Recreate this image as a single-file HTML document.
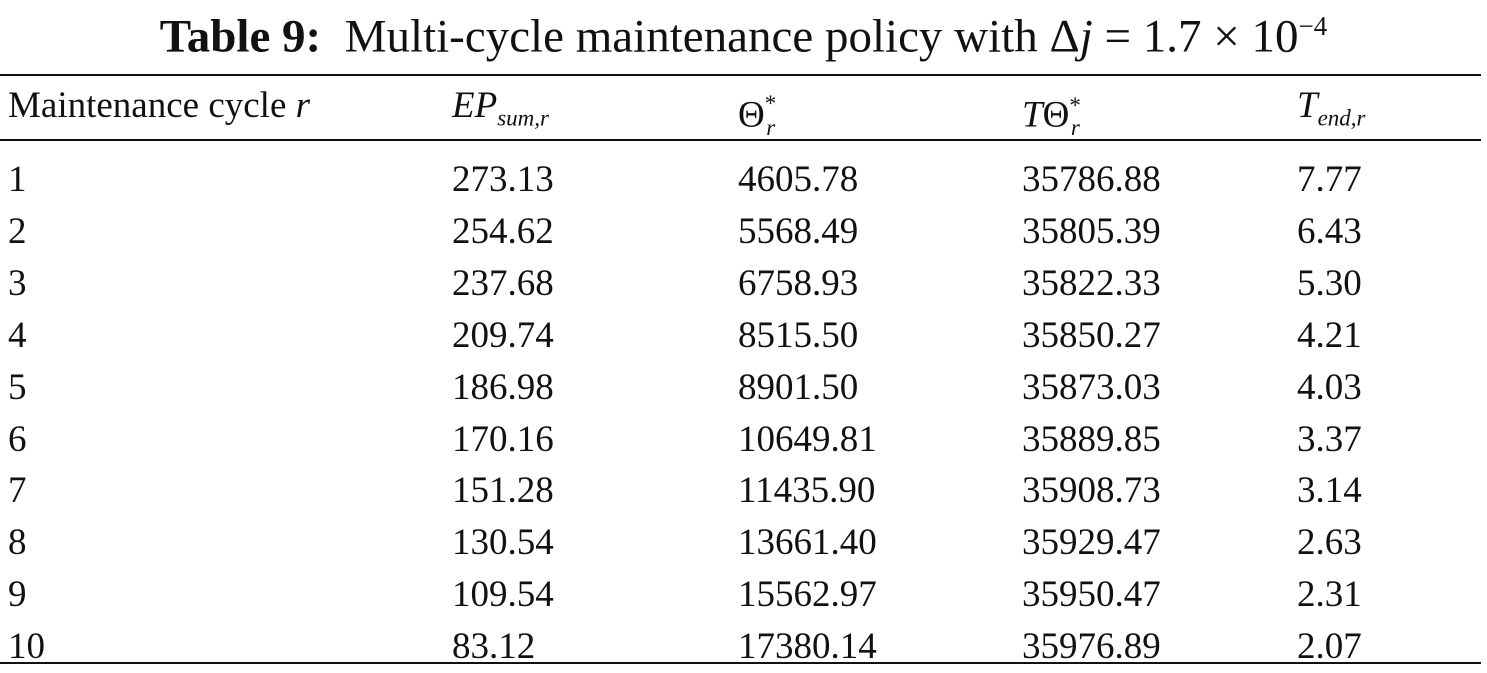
<!DOCTYPE html>
<html><head><meta charset="utf-8"><style>
body{margin:0;width:1487px;height:671px;background:#fff;position:relative;overflow:hidden;font-family:"Liberation Serif",serif;color:#111}
.t{position:absolute;white-space:nowrap}
.rule{position:absolute;left:0;width:1481px;height:2px;background:#111}
.row{position:absolute;left:0;height:52px;width:1487px;font-size:37px;line-height:52px}
.c{position:absolute;top:0;white-space:nowrap}
sub,sup{font-size:23px}
</style></head><body>
<div class="t" style="left:0;width:1487px;text-align:center;top:-2px;font-size:47px;line-height:56px"><b>Table 9:</b>&nbsp; Multi-cycle maintenance policy with Δ<i>j</i> = 1.7 × 10<sup style="font-size:27px">−4</sup></div>
<div class="rule" style="top:74px"></div>
<div class="row" style="top:80px">
<span class="c" style="left:8px">Maintenance cycle <i>r</i></span>
<span class="c" style="left:452px"><i>EP<sub>sum,r</sub></i></span>
<span class="c" style="left:738px">Θ<sup style="position:relative;top:-2px">*</sup><sub style="margin-left:-10px"><i>r</i></sub></span>
<span class="c" style="left:1022px"><i>T</i>Θ<sup>*</sup><sub style="margin-left:-10px"><i>r</i></sub></span>
<span class="c" style="left:1297px"><i>T<sub>end,r</sub></i></span>
</div>
<div class="rule" style="top:139px"></div>
<div id="body"></div>
<div class="rule" style="top:662px"></div>
<script>
const cycles=["1","2","3","4","5","6","7","8","9","10"];
const ep=["273.13","254.62","237.68","209.74","186.98","170.16","151.28","130.54","109.54","83.12"];
const theta=["4605.78","5568.49","6758.93","8515.50","8901.50","10649.81","11435.90","13661.40","15562.97","17380.14"];
const ttheta=["35786.88","35805.39","35822.33","35850.27","35873.03","35889.85","35908.73","35929.47","35950.47","35976.89"];
const tend=["7.77","6.43","5.30","4.21","4.03","3.37","3.14","2.63","2.31","2.07"];
const xs=[8,452,738,1022,1297];
const body=document.getElementById('body');
cycles.forEach((c,i)=>{
  const r=document.createElement('div');
  r.className='row';
  r.style.top=(154+i*51.9)+'px';
  
  
  [c,ep[i],theta[i],ttheta[i],tend[i]].forEach((v,j)=>{
    const s=document.createElement('span');
    s.className='c';s.style.left=xs[j]+'px';s.textContent=v;
    
    
    r.appendChild(s);
  });
  body.appendChild(r);
});
</script>
</body></html>
